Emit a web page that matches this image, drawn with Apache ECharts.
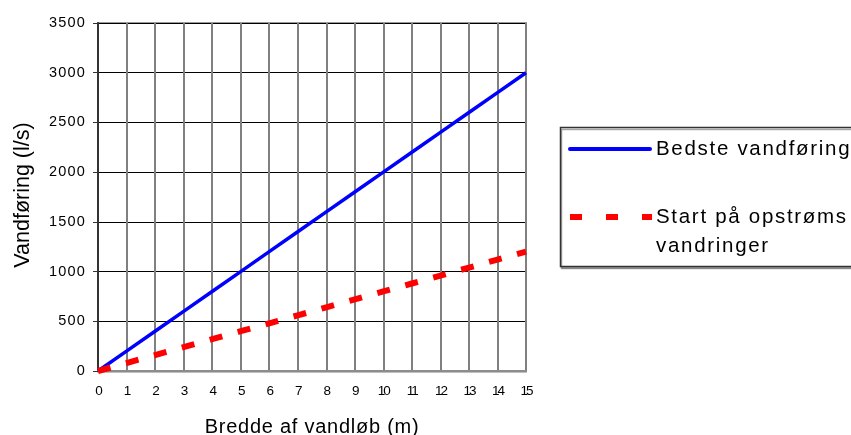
<!DOCTYPE html>
<html>
<head>
<meta charset="utf-8">
<script src="https://cdn.jsdelivr.net/npm/echarts@6/dist/echarts.min.js"></script>
<style>
  html, body { margin: 0; padding: 0; background: #fff; }
  #chart { width: 851px; height: 435px; }
</style>
</head>
<body>
<div id="chart"></div>
<script>
// Stream width (m) on the x axis
const widths = [0, 1, 2, 3, 4, 5, 6, 7, 8, 9, 10, 11, 12, 13, 14, 15];
// Best discharge (l/s)
const bestFlow = [0, 200, 400, 600, 800, 1000, 1200, 1400, 1600, 1800, 2000, 2200, 2400, 2600, 2800, 3000];
// Discharge at which upstream migration starts (l/s)
const startFlow = [0, 80, 160, 240, 320, 400, 480, 560, 640, 720, 800, 880, 960, 1040, 1120, 1200];

const seriesNames = ['Bedste vandføring', 'Start på opstrøms\nvandringer'];
const xTitle = 'Bredde af vandløb (m)';
const yTitle = 'Vandføring (l/s)';
const font = 'Liberation Sans, Arial, sans-serif';

// Letter spacing per font size, applied whenever a canvas font is set
// (covers both text measuring and drawing, so layout stays consistent).
const spacingBySize = { '14.5px': '1.2px', '13.5px': '-2px', '20px': '0.75px', '20.5px': '1.7px' };
const fontDesc = Object.getOwnPropertyDescriptor(CanvasRenderingContext2D.prototype, 'font');
Object.defineProperty(CanvasRenderingContext2D.prototype, 'font', {
  configurable: true,
  get() { return fontDesc.get.call(this); },
  set(v) {
    fontDesc.set.call(this, v);
    if ('letterSpacing' in this) {
      const m = /([\d.]+)px/.exec(String(v));
      this.letterSpacing = (m && spacingBySize[m[1] + 'px']) || '0px';
    }
  }
});

const chart = echarts.init(document.getElementById('chart'), null, { renderer: 'canvas' });
chart.setOption({
  animation: false,
  backgroundColor: '#ffffff',
  textStyle: { fontFamily: font },
  grid: {
    left: 98, right: 325, top: 23, bottom: 64,
    outerBoundsMode: 'none', containLabel: false,
    show: true, borderColor: '#9a9a9a', borderWidth: 2, backgroundColor: '#ffffff'
  },
  xAxis: {
    type: 'value', min: 0, max: 15, interval: 1,
    name: xTitle, nameLocation: 'middle', nameGap: 46,
    nameTextStyle: { fontFamily: font, fontSize: 20, color: '#000' },
    axisLine: { show: true, lineStyle: { color: '#8c8c8c', width: 2, shadowColor: 'rgba(0,0,0,0.25)', shadowOffsetY: 1 } },
    axisTick: { show: false },
    axisLabel: { fontFamily: font, fontSize: 13.5, color: '#000', margin: 14, formatter: v => String(v) },
    splitLine: { show: true, lineStyle: { color: '#808080', width: 2 } }
  },
  yAxis: {
    type: 'value', min: 0, max: 3500, interval: 500,
    name: yTitle, nameLocation: 'middle', nameGap: 64, nameRotate: 90,
    nameTextStyle: { fontFamily: font, fontSize: 21.5, color: '#000', padding: [0, 0, 0, 4] },
    axisLine: { show: true, lineStyle: { color: '#333', width: 2 } },
    axisTick: { show: true, length: 5, lineStyle: { color: '#333' } },
    axisLabel: { fontFamily: font, fontSize: 14.5, color: '#000', margin: 12, formatter: v => String(v) },
    splitLine: { show: true, lineStyle: { color: '#000', width: 1 } }
  },
  graphic: [
    {
      type: 'rect', z: 10,
      shape: { x: 560.5, y: 127.5, width: 320, height: 139 },
      style: { fill: '#fff', stroke: '#333', lineWidth: 1.5, shadowColor: 'rgba(0,0,0,0.35)', shadowOffsetX: 1, shadowOffsetY: 2 }
    },
    {
      type: 'line', z: 11,
      shape: { x1: 570, y1: 149, x2: 650, y2: 149 },
      style: { stroke: '#0000ff', lineWidth: 4, lineCap: 'round' }
    },
    {
      type: 'line', z: 11,
      shape: { x1: 570, y1: 217, x2: 652, y2: 217 },
      style: { stroke: '#ff0000', lineWidth: 6, lineDash: [12, 24] }
    },
    {
      type: 'text', z: 11, x: 656, y: 149,
      style: { text: seriesNames[0], fontFamily: font, fontSize: 20.5, fill: '#000', verticalAlign: 'middle' }
    },
    {
      type: 'text', z: 11, x: 656, y: 203,
      style: { text: seriesNames[1], fontFamily: font, fontSize: 20.5, lineHeight: 29, fill: '#000', verticalAlign: 'top' }
    }
  ],
  series: [
    {
      name: seriesNames[0], type: 'line',
      data: widths.map((w, i) => [w, bestFlow[i]]),
      showSymbol: false, symbol: 'none',
      lineStyle: { color: '#0000ff', width: 3.5 },
      itemStyle: { color: '#0000ff' }
    },
    {
      name: seriesNames[1], type: 'line',
      data: widths.map((w, i) => [w, startFlow[i]]),
      showSymbol: false, symbol: 'none',
      lineStyle: { color: '#ff0000', width: 6, type: [13, 16] },
      itemStyle: { color: '#ff0000' }
    }
  ]
});
</script>
</body>
</html>
